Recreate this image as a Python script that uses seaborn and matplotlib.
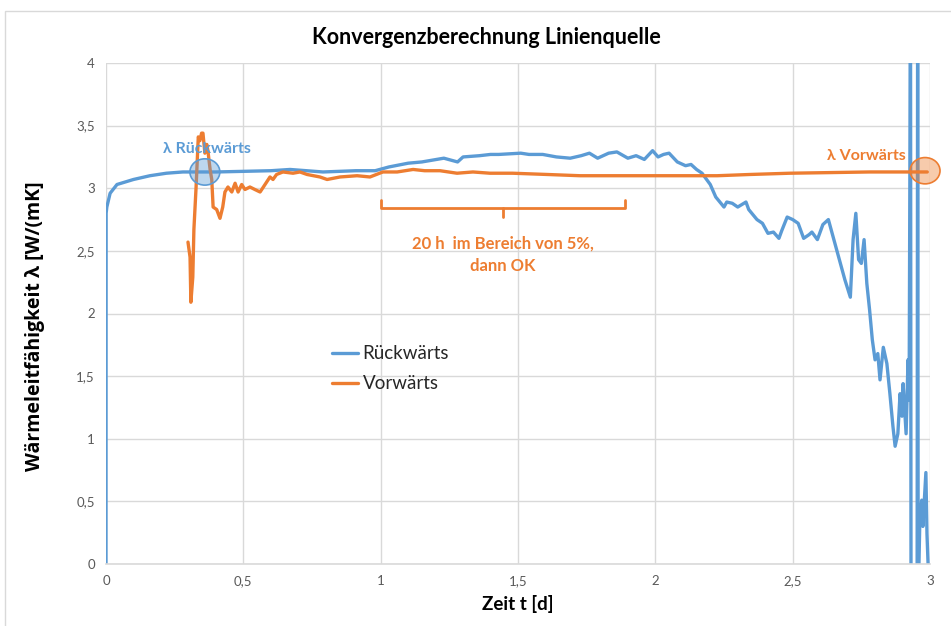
import numpy as np
import pandas as pd
import matplotlib
matplotlib.use("Agg")
import matplotlib.pyplot as plt
from matplotlib.patches import Ellipse, Rectangle
import seaborn as sns

# ---------------- data ----------------
rueck_t = [0, 0.0005, 0.003, 0.015, 0.04, 0.1, 0.16, 0.22, 0.28, 0.4, 0.5, 0.6, 0.67, 0.79, 0.91,
           0.98, 1.03, 1.10, 1.15, 1.23, 1.28, 1.30, 1.36, 1.40, 1.43, 1.51, 1.54, 1.59, 1.64, 1.69,
           1.73, 1.76, 1.79, 1.83, 1.86, 1.90, 1.93, 1.96, 1.99, 2.01, 2.03, 2.05, 2.08, 2.11, 2.13,
           2.15, 2.17, 2.20, 2.22, 2.25, 2.26, 2.28, 2.30, 2.33, 2.34, 2.37, 2.39, 2.41, 2.43, 2.45,
           2.46, 2.48, 2.50, 2.52, 2.54, 2.56, 2.57, 2.59, 2.61, 2.63, 2.65, 2.67, 2.69, 2.71, 2.72,
           2.73, 2.74, 2.75, 2.76, 2.77, 2.78, 2.79, 2.80, 2.81, 2.818, 2.83, 2.843, 2.854, 2.865,
           2.873, 2.883, 2.891, 2.898, 2.902, 2.913, 2.920, 2.924, 2.929, 2.931, 2.953, 2.955, 2.957,
           2.963, 2.970, 2.974, 2.985, 2.989, 2.993, 3.0]
rueck_v = [0, 2.80, 2.85, 2.96, 3.03, 3.07, 3.10, 3.12, 3.13, 3.13, 3.135, 3.14, 3.15, 3.13, 3.14,
           3.14, 3.17, 3.20, 3.21, 3.24, 3.21, 3.25, 3.26, 3.27, 3.27, 3.28, 3.27, 3.27, 3.25, 3.24,
           3.26, 3.28, 3.24, 3.28, 3.29, 3.24, 3.26, 3.23, 3.30, 3.25, 3.27, 3.28, 3.21, 3.18, 3.19,
           3.15, 3.12, 3.03, 2.93, 2.85, 2.89, 2.88, 2.85, 2.89, 2.83, 2.75, 2.72, 2.64, 2.65, 2.60,
           2.66, 2.77, 2.75, 2.72, 2.60, 2.63, 2.65, 2.59, 2.71, 2.75, 2.59, 2.43, 2.27, 2.13, 2.59,
           2.80, 2.43, 2.40, 2.59, 2.24, 2.03, 1.79, 1.63, 1.68, 1.47, 1.73, 1.60, 1.36, 1.10,
           0.94, 1.04, 1.36, 1.18, 1.44, 1.04, 1.63, 1.31, 4.6, -0.5, -0.5, 4.6, -0.3,
           0.35, 0.51, 0.30, 0.73, 0.24, 0.0, -0.2]

vor_t = [0.2985, 0.306, 0.309, 0.316, 0.320, 0.328, 0.336, 0.342, 0.348, 0.353, 0.360, 0.367, 0.371,
         0.379, 0.385, 0.390, 0.403, 0.415, 0.425, 0.433, 0.444, 0.458, 0.470, 0.481, 0.494, 0.506,
         0.524, 0.542, 0.561, 0.579, 0.597, 0.608, 0.621, 0.644, 0.681, 0.706, 0.732, 0.779, 0.805,
         0.852, 0.914, 0.961, 1.008, 1.06, 1.118, 1.16, 1.216, 1.278, 1.336, 1.398, 1.48, 1.606,
         1.726, 1.871, 2.017, 2.163, 2.225, 2.345, 2.49, 2.636, 2.78, 2.89, 2.99]
vor_v = [2.57, 2.45, 2.09, 2.29, 2.67, 3.01, 3.41, 3.38, 3.44, 3.44, 3.28, 3.35, 3.30,
         3.15, 3.07, 2.85, 2.83, 2.76, 2.85, 2.97, 3.01, 2.97, 3.04, 2.97, 3.03, 2.99,
         3.01, 2.99, 2.97, 3.03, 3.09, 3.07, 3.11, 3.13, 3.12, 3.13, 3.11, 3.09, 3.07,
         3.09, 3.10, 3.09, 3.13, 3.13, 3.15, 3.14, 3.14, 3.12, 3.13, 3.12, 3.12, 3.11,
         3.10, 3.10, 3.10, 3.10, 3.10, 3.11, 3.12, 3.125, 3.13, 3.13, 3.13]

series_names = ["Rückwärts", "Vorwärts"]
x_ticks = [0, 0.5, 1, 1.5, 2, 2.5, 3]
x_ticklabels = ["0", "0,5", "1", "1,5", "2", "2,5", "3"]
y_ticks = [0, 0.5, 1, 1.5, 2, 2.5, 3, 3.5, 4]
y_ticklabels = ["0", "0,5", "1", "1,5", "2", "2,5", "3", "3,5", "4"]

title = "Konvergenzberechnung Linienquelle"
xlabel = "Zeit t [d]"
ylabel = "Wärmeleitfähigkeit λ [W/(mK]"
note_rueck = "λ Rückwärts"
note_vor = "λ Vorwärts"
note_bracket = "20 h  im Bereich von 5%,\ndann OK"
bracket_start, bracket_end = 1.0, 1.89

# ---------------- styling ----------------
BLUE = "#5b9bd5"
ORANGE = "#ed7d31"
GRID = "#d9d9d9"
TICK = "#595959"

sns.set_theme(style="white")
plt.rcParams["font.family"] = ["Lato", "DejaVu Sans"]

df = pd.concat([
    pd.DataFrame({"t": rueck_t, "v": rueck_v, "Serie": series_names[0]}),
    pd.DataFrame({"t": vor_t, "v": vor_v, "Serie": series_names[1]}),
], ignore_index=True)

fig = plt.figure(figsize=(9.51, 6.26), dpi=100)
ax = fig.add_axes([106 / 951, 62 / 626, 824 / 951, 501 / 626])

sns.lineplot(data=df, x="t", y="v", hue="Serie", hue_order=series_names,
             palette=[BLUE, ORANGE], sort=False, estimator=None, linewidth=2.4,
             ax=ax, legend=True)

ax.set_xlim(0, 3)
ax.set_ylim(0, 4)
ax.set_xticks(x_ticks)
ax.set_xticklabels(x_ticklabels)
ax.set_yticks(y_ticks)
ax.set_yticklabels(y_ticklabels)
ax.tick_params(axis="both", length=0, labelsize=9.5, labelcolor=TICK, pad=8)
ax.grid(True, color=GRID, linewidth=1.0)
ax.set_axisbelow(True)
for s in ["top", "right", "left"]:
    ax.spines[s].set_visible(False)
ax.spines["bottom"].set_color(GRID)
ax.spines["bottom"].set_linewidth(1.2)

ax.set_xlabel(xlabel, fontsize=13.5, fontweight="bold", color="black", labelpad=6)
ax.set_ylabel(ylabel, fontsize=14, fontweight="bold", color="black",
              family=["Open Sans", "DejaVu Sans"])
ax.yaxis.set_label_coords(-61 / 824, 0.475)

fig.text(486 / 951, 1 - 38 / 626, title, ha="center", va="center",
         fontsize=15.5, fontweight="bold", color="black")

# legend
handles, labels = ax.get_legend_handles_labels()
ax.legend(handles, labels, loc="upper left", bbox_to_anchor=(0.274, 0.437), frameon=False,
          fontsize=13.5, handlelength=1.4, handletextpad=0.25, labelspacing=0.7,
          borderaxespad=0, borderpad=0)

# annotations
ax.add_patch(Ellipse((0.360, 3.13), 0.109, 0.21, facecolor=BLUE, alpha=0.4,
                     edgecolor="none", zorder=5))
ax.add_patch(Ellipse((0.360, 3.13), 0.109, 0.21, facecolor="none",
                     edgecolor=BLUE, linewidth=1.2, zorder=5))
ax.text(0.368, 3.31, note_rueck, color=BLUE, fontsize=11.5, fontweight="bold",
        ha="center", va="center", zorder=6)

ax.add_patch(Ellipse((2.982, 3.14), 0.109, 0.21, facecolor=ORANGE, alpha=0.4,
                     edgecolor="none", zorder=5, clip_on=False))
ax.add_patch(Ellipse((2.982, 3.14), 0.109, 0.21, facecolor="none",
                     edgecolor=ORANGE, linewidth=1.2, zorder=5, clip_on=False))
ax.text(2.913, 3.26, note_vor, color=ORANGE, fontsize=11.5, fontweight="bold",
        ha="right", va="center", zorder=6)

mid = (bracket_start + bracket_end) / 2
ax.plot([bracket_start, bracket_start, bracket_end, bracket_end],
        [2.91, 2.84, 2.84, 2.91], color=ORANGE, linewidth=2.0, zorder=4)
ax.plot([mid, mid], [2.84, 2.77], color=ORANGE, linewidth=2.0, zorder=4)
ax.text(mid, 2.47, note_bracket, color=ORANGE, fontsize=12, fontweight="bold",
        ha="center", va="center", linespacing=1.55, zorder=6)

# chart border
fig.patches.append(Rectangle((5 / 951, -0.02), 1.0, (626 - 11) / 626 + 0.02,
                             transform=fig.transFigure, facecolor="none",
                             edgecolor=GRID, linewidth=1.0))

fig.savefig("out.png", dpi=100)
